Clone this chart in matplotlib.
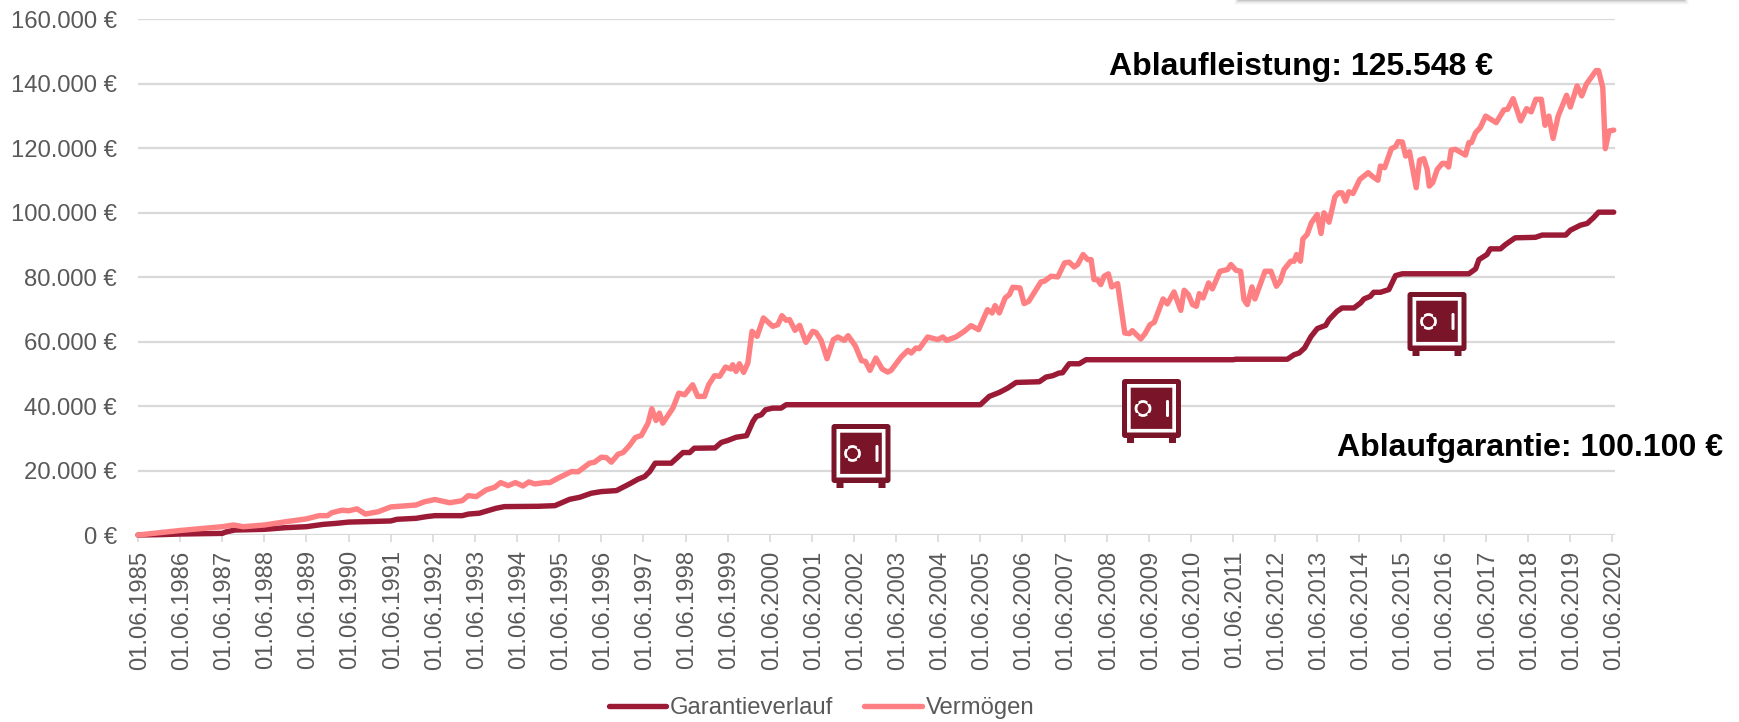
import matplotlib
matplotlib.use("Agg")
import matplotlib.pyplot as plt
from matplotlib.patches import Rectangle, FancyBboxPatch, Circle
from matplotlib.transforms import ScaledTranslation
import math

plt.rcParams['font.family'] = ['Liberation Sans', 'DejaVu Sans']

# years since 01.06.1985 / EUR
garantie_t = [0,0.5,1,2,2.1,2.3,2.5,3,3.5,4,4.4,4.7,5,6,6.15,6.6,6.85,7.05,7.7,7.85,8.1,8.5,8.7,9.5,9.9,10.25,10.49,10.76,11,11.36,11.67,11.87,12.03,12.15,12.28,12.66,12.94,13.1,13.21,13.33,13.7,13.85,14.0,14.2,14.45,14.6,14.68,14.8,14.9,15.07,15.27,15.39,20.0,20.17,20.21,20.45,20.65,20.85,21.4,21.56,21.72,21.87,21.95,22.11,22.35,22.51,26.0,26.07,27.29,27.45,27.57,27.7,27.85,28.0,28.2,28.28,28.47,28.59,28.87,29.03,29.11,29.26,29.34,29.5,29.7,29.86,30.02,31.6,31.76,31.84,32.03,32.11,32.35,32.47,32.7,33.18,33.34,33.9,34.01,34.25,34.41,34.56,34.68,35.04]
garantie_v = [0,100,300,500,1000,1550,1600,1760,2270,2580,3300,3600,4000,4350,4870,5170,5700,6000,6000,6500,6750,8280,8800,8900,9100,11070,11700,12940,13460,13770,15840,17290,18120,19670,22270,22270,25570,25570,26920,26920,27000,28700,29300,30300,30800,35200,36750,37270,38830,39340,39340,40400,40400,42450,42970,44200,45560,47300,47520,48970,49400,50220,50300,53100,53100,54350,54350,54500,54500,55900,56430,58000,61500,64000,65000,66780,69370,70400,70400,71960,73200,74000,75260,75260,76100,80440,81000,81000,82520,85400,86970,88730,88730,90070,92150,92300,93000,93000,94500,96070,96600,98400,100100,100100]

vermoegen_t = [0,1,2,2.27,2.5,3,3.5,4,4.3,4.5,4.6,4.85,5,5.2,5.4,5.7,6,6.3,6.6,6.8,7.05,7.4,7.7,7.84,8.03,8.27,8.47,8.61,8.79,8.96,9.14,9.28,9.42,9.66,9.78,9.97,10.29,10.45,10.72,10.84,11.0,11.12,11.24,11.4,11.52,11.67,11.81,11.95,12.11,12.2,12.3,12.38,12.46,12.7,12.84,12.98,13.17,13.29,13.45,13.55,13.69,13.81,13.95,14.08,14.12,14.2,14.28,14.38,14.48,14.58,14.7,14.85,15.07,15.19,15.29,15.39,15.47,15.6,15.71,15.86,16.02,16.1,16.22,16.36,16.51,16.62,16.77,16.86,17.03,17.18,17.27,17.38,17.52,17.67,17.8,17.88,18.0,18.12,18.28,18.36,18.47,18.55,18.75,18.99,19.11,19.2,19.42,19.62,19.78,19.96,20.17,20.28,20.35,20.45,20.59,20.69,20.77,20.94,21.04,21.15,21.44,21.52,21.68,21.84,22.0,22.11,22.23,22.31,22.44,22.55,22.63,22.7,22.78,22.86,22.94,23.04,23.12,23.26,23.43,23.54,23.61,23.81,23.91,24.03,24.13,24.34,24.44,24.6,24.76,24.84,24.94,25.04,25.13,25.2,25.29,25.42,25.51,25.69,25.87,25.95,26.07,26.18,26.26,26.34,26.45,26.52,26.76,26.9,27.03,27.12,27.21,27.37,27.45,27.51,27.6,27.66,27.76,27.86,28.0,28.09,28.16,28.28,28.42,28.51,28.59,28.67,28.75,28.85,29.01,29.21,29.3,29.44,29.5,29.6,29.76,29.86,29.92,30.02,30.1,30.19,30.35,30.43,30.53,30.61,30.66,30.74,30.85,30.97,31.04,31.12,31.18,31.28,31.52,31.6,31.66,31.76,31.87,32.0,32.25,32.43,32.52,32.65,32.83,32.97,33.08,33.19,33.32,33.41,33.5,33.6,33.72,33.92,34.01,34.17,34.28,34.39,34.62,34.68,34.78,34.84,34.93,35.04]
vermoegen_v = [0,1400,2570,3100,2570,3100,4100,5000,6000,6000,6900,7700,7500,8100,6500,7200,8700,9000,9300,10300,11000,10000,10650,12200,11900,14000,14800,16250,15300,16250,15200,16460,15840,16250,16250,17600,19670,19600,22270,22580,24130,24000,22580,25060,25580,27750,30230,30850,34680,39140,35500,37790,34680,39340,44000,43480,46590,42970,42970,46590,49400,49200,52080,51470,52800,50730,53100,50420,53300,63160,61600,67300,64700,65200,68000,66570,66800,63470,65000,59740,63160,62800,60350,54660,60570,61400,60350,61800,58700,54040,53840,51040,54870,51470,50520,51040,53100,55180,57250,56430,57980,57770,61400,60570,61400,60350,61400,63160,64920,63670,69880,68850,71130,68850,73510,74540,76820,76610,71750,72470,78480,78690,80240,80030,84380,84590,83140,83860,86970,85400,85400,79200,79200,77650,80240,80970,76920,77960,62630,62430,63360,60780,62430,65220,65950,73200,71650,75370,69660,75900,74540,71440,70920,74850,73500,78170,76300,81780,82300,83860,82100,81780,73000,71440,76920,73200,81780,81780,77130,78690,82300,84900,84900,86970,84900,91830,93180,96800,99400,93490,99900,97000,104880,106100,106100,103500,106430,105900,110260,112350,111300,110000,114400,113900,119800,120400,121970,121850,117500,118860,107680,116250,116690,113370,108180,109240,113370,115230,115230,114100,119360,119600,117800,121650,121650,124760,126300,129900,127860,131800,132000,135300,128400,132200,131200,135100,135100,127040,129900,122980,129900,136350,132700,139250,136150,139800,144000,144000,138700,119800,125280,125548]

year_ticks = list(range(0, 36))
year_labels = [f"01.06.{1985 + i}" for i in year_ticks]
value_ticks = list(range(0, 160001, 20000))
value_labels = [f"{v:,}".replace(",", ".") + " €" for v in value_ticks]
series_names = ["Garantieverlauf", "Vermögen"]
note_leistung = "Ablaufleistung: 125.548 €"
note_garantie = "Ablaufgarantie: 100.100 €"

W, H = 1739, 722
DARK, PINK, SAFE, GREY, TXT = "#9B1B36", "#FF8083", "#7A1428", "#D9D9D9", "#595959"

fig = plt.figure(figsize=(W / 100, H / 100), dpi=100, facecolor="white")
ax = fig.add_axes([138 / W, 1 - 535 / H, (1615 - 138) / W, (535 - 19) / H])
ax.set_xlim(0, 35.07)
ax.set_ylim(0, 160000)
for s in ax.spines.values():
    s.set_visible(False)
ax.set_axisbelow(True)
ax.grid(axis="y", color=GREY, lw=1.6)
ax.set_yticks(value_ticks, value_labels)
ax.set_xticks(year_ticks, year_labels, rotation=90)
ax.tick_params(axis="y", length=0, pad=15, labelsize=17.2, labelcolor=TXT)
ax.tick_params(axis="x", length=5, width=1.2, color=GREY, pad=6, labelsize=17.2, labelcolor=TXT)
shift = ScaledTranslation(2 / 100, 0, fig.dpi_scale_trans)
for lab in ax.get_xticklabels():
    lab.set_transform(lab.get_transform() + shift)

style = dict(lw=3.9, solid_joinstyle="round", solid_capstyle="round", clip_on=False)
ax.plot(garantie_t, garantie_v, color=DARK, label=series_names[0], **style)
ax.plot(vermoegen_t, vermoegen_v, color=PINK, label=series_names[1], **style)

fig.legend(loc="center", bbox_to_anchor=(821.5 / W, 1 - 708 / H), ncol=2, frameon=False,
           fontsize=17.2, labelcolor=TXT, handlelength=2.4, handletextpad=0.17,
           columnspacing=1.3, borderpad=0, borderaxespad=0)

# overlay in figure pixels for decoration
ov = fig.add_axes([0, 0, 1, 1], facecolor="none")
ov.set_xlim(0, W)
ov.set_ylim(H, 0)
ov.axis("off")

def safe(left, top):
    def P(x, y, w, h, c, r=0.0):
        ov.add_patch(FancyBboxPatch((left + x + r, top + y + r), w - 2 * r, h - 2 * r,
                                    boxstyle=f"round,pad={r},rounding_size={r}", fc=c, ec="none"))
    P(5, 56, 7, 8, SAFE)
    P(47, 56, 7, 8, SAFE)
    P(0, 0, 59, 59, SAFE, 3)
    P(5, 5, 49, 48.5, "white")
    P(8.7, 8.7, 41.6, 41.2, SAFE)
    cx, cy = left + 21, top + 29.5
    ov.add_patch(Circle((cx, cy), 7, fc=SAFE, ec="white", lw=2.0))
    for k in range(4):
        a = math.pi / 4 + k * math.pi / 2
        ov.add_patch(Circle((cx + 8.6 * math.cos(a), cy + 8.6 * math.sin(a)), 1.7, fc=SAFE, ec="none"))
    P(44, 21, 3, 17, "white", 1.4)

safe(831.5, 424)
safe(1122, 379)
safe(1407.5, 292)

# card shadow clipped at the top edge
for i, a in enumerate([0.22, 0.14, 0.08, 0.05, 0.03]):
    ov.add_patch(Rectangle((1238 - i, 0), 447 + 2 * i, 1 + i, fc="#808080", alpha=a, ec="none"))

ov.text(1109, 67, note_leistung, fontsize=23, fontweight="bold", color="black", va="center", ha="left")
ov.text(1337, 448, note_garantie, fontsize=23, fontweight="bold", color="black", va="center", ha="left")

fig.savefig("out.png", dpi=100)
